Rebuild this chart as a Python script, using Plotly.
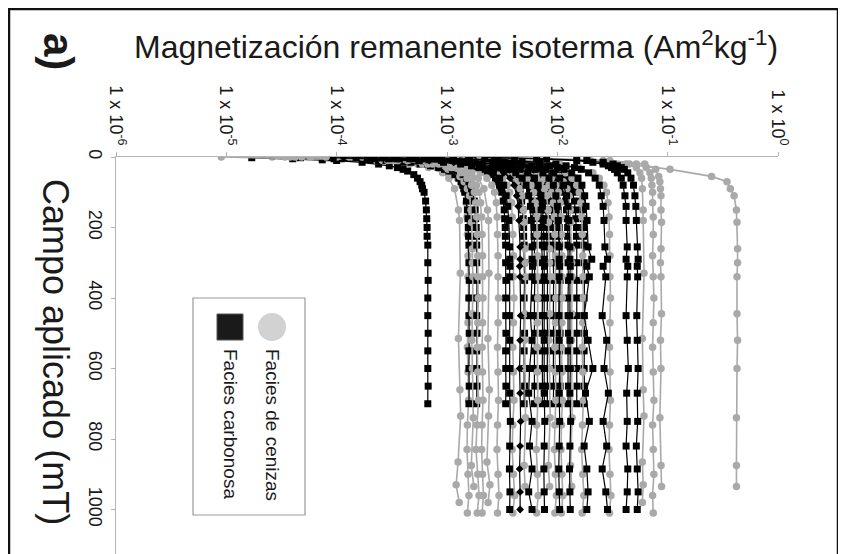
import plotly.graph_objects as go

# Campo aplicado (mT) - pasos de medicion de cada protocolo
FIELD_CARB_A = [2, 5, 8, 10, 15, 20, 25, 30, 35, 40, 50, 60, 70, 80, 90, 100, 125, 150, 175,
                200, 225, 250, 300, 350, 400, 450, 500, 550, 600, 650, 700]
FIELD_CARB_B = [2, 5, 10, 15, 20, 25, 30, 35, 45, 60, 80, 110, 140, 180, 255, 290, 310, 340,
                450, 520, 600, 670, 750, 820, 885, 950, 1000]
FIELD_CEN_A = [0, 10, 20, 35, 55, 70, 90, 110, 150, 185, 260, 300, 340, 445, 520, 600,
               740, 875, 935]
FIELD_CEN_B = [0, 10, 20, 30, 45, 60, 90, 150, 180, 330, 515, 660, 735, 865, 930, 980]
FIELD_CEN_C = [0, 10, 20, 30, 45, 60, 80, 100, 130, 170, 220, 280, 340, 400, 470, 540,
               610, 690, 760, 830, 900, 960, 1010]

# Facies carbonosa (Am2/kg), protocolo hasta 700 mT
CARB_01 = [1.7e-5, 4.0e-5, 7.4e-5, 1.0e-4, 1.7e-4, 2.4e-4, 3.0e-4, 3.55e-4, 4.0e-4, 4.4e-4,
           5.0e-4, 5.4e-4, 5.7e-4, 5.9e-4, 6.0e-4, 6.2e-4, 6.4e-4, 6.5e-4, 6.55e-4, 6.6e-4,
           6.6e-4, 6.7e-4, 6.7e-4, 6.75e-4, 6.7e-4, 6.7e-4, 6.75e-4, 6.7e-4, 6.7e-4, 6.75e-4, 6.7e-4]
CARB_02 = [4.0e-5, 9.5e-5, 1.74e-4, 2.4e-4, 4.0e-4, 5.7e-4, 7.1e-4, 8.4e-4, 9.5e-4, 1.04e-3,
           1.18e-3, 1.28e-3, 1.34e-3, 1.39e-3, 1.42e-3, 1.45e-3, 1.50e-3, 1.53e-3, 1.55e-3, 1.56e-3,
           1.57e-3, 1.58e-3, 1.58e-3, 1.59e-3, 1.58e-3, 1.58e-3, 1.59e-3, 1.58e-3, 1.58e-3, 1.59e-3,
           1.58e-3]
CARB_03 = [4.7e-5, 1.1e-4, 2.0e-4, 2.8e-4, 4.7e-4, 6.7e-4, 8.4e-4, 9.9e-4, 1.12e-3, 1.23e-3,
           1.40e-3, 1.51e-3, 1.58e-3, 1.64e-3, 1.67e-3, 1.71e-3, 1.77e-3, 1.80e-3, 1.82e-3, 1.84e-3,
           1.85e-3, 1.86e-3, 1.86e-3, 1.87e-3, 1.86e-3, 1.86e-3, 1.87e-3, 1.86e-3, 1.86e-3, 1.87e-3,
           1.86e-3]
CARB_04 = [8.5e-5, 2.0e-4, 3.7e-4, 5.1e-4, 8.5e-4, 1.22e-3, 1.53e-3, 1.80e-3, 2.04e-3, 2.24e-3,
           2.55e-3, 2.75e-3, 2.89e-3, 2.99e-3, 3.06e-3, 3.13e-3, 3.23e-3, 3.30e-3, 3.33e-3, 3.37e-3,
           3.38e-3, 3.40e-3, 3.40e-3, 3.42e-3, 3.40e-3, 3.41e-3, 3.42e-3, 3.40e-3, 3.41e-3, 3.42e-3,
           3.40e-3]
CARB_05 = [1.8e-4, 4.4e-4, 8.0e-4, 1.1e-3, 1.8e-3, 2.6e-3, 3.3e-3, 3.9e-3, 4.4e-3, 4.8e-3,
           5.5e-3, 5.9e-3, 6.2e-3, 6.4e-3, 6.6e-3, 6.7e-3, 6.9e-3, 7.1e-3, 7.15e-3, 7.2e-3,
           7.25e-3, 7.3e-3, 7.3e-3, 7.35e-3, 7.3e-3, 7.3e-3, 7.35e-3, 7.3e-3, 7.3e-3, 7.35e-3, 7.3e-3]
CARB_06 = [2.0e-4, 4.9e-4, 8.9e-4, 1.2e-3, 2.0e-3, 2.9e-3, 3.6e-3, 4.3e-3, 4.9e-3, 5.3e-3,
           6.1e-3, 6.6e-3, 6.9e-3, 7.1e-3, 7.3e-3, 7.45e-3, 7.7e-3, 7.85e-3, 7.95e-3, 8.0e-3,
           8.05e-3, 8.1e-3, 8.1e-3, 8.15e-3, 8.1e-3, 8.1e-3, 8.15e-3, 8.1e-3, 8.1e-3, 8.15e-3, 8.1e-3]
CARB_07 = [2.3e-4, 5.5e-4, 1.0e-3, 1.4e-3, 2.3e-3, 3.3e-3, 4.1e-3, 4.9e-3, 5.5e-3, 6.1e-3,
           6.9e-3, 7.5e-3, 7.8e-3, 8.1e-3, 8.3e-3, 8.5e-3, 8.7e-3, 8.9e-3, 9.0e-3, 9.1e-3,
           9.15e-3, 9.2e-3, 9.2e-3, 9.25e-3, 9.2e-3, 9.2e-3, 9.25e-3, 9.2e-3, 9.2e-3, 9.25e-3, 9.2e-3]
CARB_08 = [2.6e-4, 6.3e-4, 1.16e-3, 1.6e-3, 2.6e-3, 3.8e-3, 4.7e-3, 5.6e-3, 6.3e-3, 6.9e-3,
           7.9e-3, 8.5e-3, 8.9e-3, 9.2e-3, 9.5e-3, 9.7e-3, 1.0e-2, 1.02e-2, 1.03e-2, 1.04e-2,
           1.04e-2, 1.05e-2, 1.05e-2, 1.06e-2, 1.05e-2, 1.05e-2, 1.06e-2, 1.05e-2, 1.05e-2, 1.06e-2,
           1.05e-2]
CARB_09 = [3.1e-4, 7.5e-4, 1.38e-3, 1.9e-3, 3.1e-3, 4.5e-3, 5.6e-3, 6.6e-3, 7.5e-3, 8.3e-3,
           9.4e-3, 1.01e-2, 1.06e-2, 1.1e-2, 1.13e-2, 1.15e-2, 1.19e-2, 1.21e-2, 1.23e-2, 1.24e-2,
           1.24e-2, 1.25e-2, 1.25e-2, 1.26e-2, 1.25e-2, 1.25e-2, 1.26e-2, 1.25e-2, 1.25e-2, 1.26e-2,
           1.25e-2]
CARB_10 = [3.8e-4, 9.0e-4, 1.65e-3, 2.3e-3, 3.8e-3, 5.4e-3, 6.8e-3, 8.0e-3, 9.0e-3, 9.9e-3,
           1.13e-2, 1.22e-2, 1.28e-2, 1.32e-2, 1.35e-2, 1.38e-2, 1.43e-2, 1.46e-2, 1.47e-2, 1.49e-2,
           1.49e-2, 1.5e-2, 1.5e-2, 1.51e-2, 1.5e-2, 1.5e-2, 1.51e-2, 1.5e-2, 1.5e-2, 1.51e-2, 1.5e-2]
CARB_21 = [1.25e-4, 3.0e-4, 5.5e-4, 7.5e-4, 1.25e-3, 1.8e-3, 2.25e-3, 2.65e-3, 3.0e-3, 3.3e-3,
           3.75e-3, 4.05e-3, 4.25e-3, 4.4e-3, 4.5e-3, 4.6e-3, 4.75e-3, 4.85e-3, 4.9e-3, 4.95e-3,
           4.95e-3, 5.0e-3, 5.0e-3, 5.05e-3, 5.0e-3, 5.0e-3, 5.05e-3, 5.0e-3, 5.0e-3, 5.05e-3, 5.0e-3]
CARB_22 = [1.55e-4, 3.7e-4, 6.8e-4, 9.3e-4, 1.55e-3, 2.2e-3, 2.8e-3, 3.3e-3, 3.7e-3, 4.1e-3,
           4.65e-3, 5.0e-3, 5.3e-3, 5.45e-3, 5.6e-3, 5.7e-3, 5.9e-3, 6.0e-3, 6.1e-3, 6.15e-3,
           6.15e-3, 6.2e-3, 6.2e-3, 6.25e-3, 6.2e-3, 6.2e-3, 6.25e-3, 6.2e-3, 6.2e-3, 6.25e-3, 6.2e-3]
CARB_23 = [4.4e-4, 1.05e-3, 1.9e-3, 2.6e-3, 4.4e-3, 6.3e-3, 7.9e-3, 9.3e-3, 1.05e-2, 1.15e-2,
           1.31e-2, 1.42e-2, 1.49e-2, 1.54e-2, 1.58e-2, 1.61e-2, 1.66e-2, 1.7e-2, 1.72e-2, 1.73e-2,
           1.73e-2, 1.75e-2, 1.75e-2, 1.76e-2, 1.75e-2, 1.75e-2, 1.76e-2, 1.75e-2, 1.75e-2, 1.76e-2,
           1.75e-2]

# Facies carbonosa, protocolo hasta 1000 mT
CARB_11 = [1.15e-4, 2.8e-4, 6.9e-4, 1.15e-3, 1.66e-3, 2.07e-3, 2.44e-3, 2.76e-3, 3.27e-3, 3.73e-3,
           4.05e-3, 4.28e-3, 4.42e-3, 4.5e-3, 4.6e-3, 4.6e-3, 4.55e-3, 4.6e-3, 4.65e-3, 4.6e-3,
           4.55e-3, 4.6e-3, 4.65e-3, 4.6e-3, 4.55e-3, 4.6e-3, 4.6e-3]
CARB_12 = [9.3e-5, 2.2e-4, 5.6e-4, 9.3e-4, 1.33e-3, 1.67e-3, 1.96e-3, 2.22e-3, 2.63e-3, 3.0e-3,
           3.26e-3, 3.44e-3, 3.55e-3, 3.63e-3, 3.7e-3, 3.7e-3, 3.72e-3, 3.7e-3, 3.68e-3, 3.7e-3,
           3.72e-3, 3.7e-3, 3.75e-3, 3.7e-3, 3.68e-3, 3.72e-3, 3.7e-3]
CARB_13 = [1.5e-4, 3.5e-4, 8.9e-4, 1.5e-3, 2.1e-3, 2.65e-3, 3.1e-3, 3.55e-3, 4.2e-3, 4.8e-3,
           5.2e-3, 5.5e-3, 5.7e-3, 5.8e-3, 5.9e-3, 5.9e-3, 5.95e-3, 5.9e-3, 5.7e-3, 5.9e-3,
           5.6e-3, 5.5e-3, 5.9e-3, 5.6e-3, 5.9e-3, 5.5e-3, 5.9e-3]
CARB_14 = [1.9e-4, 4.6e-4, 1.14e-3, 1.9e-3, 2.7e-3, 3.4e-3, 4.0e-3, 4.6e-3, 5.4e-3, 6.2e-3,
           6.7e-3, 7.1e-3, 7.3e-3, 7.45e-3, 7.6e-3, 7.6e-3, 7.65e-3, 7.6e-3, 7.55e-3, 7.6e-3,
           7.65e-3, 7.6e-3, 7.7e-3, 7.6e-3, 7.55e-3, 7.6e-3, 7.65e-3]
CARB_15 = [2.6e-4, 6.2e-4, 1.56e-3, 2.6e-3, 3.7e-3, 4.7e-3, 5.5e-3, 6.3e-3, 7.4e-3, 8.4e-3,
           9.2e-3, 9.7e-3, 1.0e-2, 1.02e-2, 1.04e-2, 1.04e-2, 1.05e-2, 1.04e-2, 1.03e-2, 1.04e-2,
           1.05e-2, 1.04e-2, 1.05e-2, 1.04e-2, 1.03e-2, 1.04e-2, 1.05e-2]
CARB_16 = [3.3e-4, 7.8e-4, 1.95e-3, 3.3e-3, 4.7e-3, 5.9e-3, 6.9e-3, 7.9e-3, 9.2e-3, 1.05e-2,
           1.14e-2, 1.21e-2, 1.25e-2, 1.27e-2, 1.3e-2, 1.3e-2, 1.31e-2, 1.3e-2, 1.29e-2, 1.3e-2,
           1.31e-2, 1.3e-2, 1.32e-2, 1.3e-2, 1.29e-2, 1.3e-2, 1.31e-2]
CARB_17 = [4.8e-4, 1.14e-3, 2.9e-3, 4.8e-3, 6.8e-3, 8.5e-3, 1.0e-2, 1.15e-2, 1.35e-2, 1.54e-2,
           1.67e-2, 1.77e-2, 1.82e-2, 1.86e-2, 1.9e-2, 2.05e-2, 1.85e-2, 1.95e-2, 1.75e-2, 1.9e-2,
           2.1e-2, 1.8e-2, 1.95e-2, 1.75e-2, 1.85e-2, 1.9e-2, 1.85e-2]
CARB_18 = [6.8e-4, 1.6e-3, 4.1e-3, 6.9e-3, 9.7e-3, 1.2e-2, 1.43e-2, 1.65e-2, 1.92e-2, 2.2e-2,
           2.4e-2, 2.5e-2, 2.6e-2, 2.65e-2, 2.7e-2, 2.85e-2, 2.6e-2, 2.75e-2, 2.55e-2, 2.8e-2,
           2.65e-2, 2.9e-2, 2.6e-2, 2.8e-2, 2.55e-2, 2.75e-2, 2.85e-2]
CARB_19 = [2.2e-3, 6.5e-3, 1.5e-2, 2.1e-2, 2.6e-2, 2.9e-2, 3.1e-2, 3.3e-2, 3.5e-2, 3.8e-2,
           3.95e-2, 4.1e-2, 4.2e-2, 4.2e-2, 4.3e-2, 4.2e-2, 4.35e-2, 4.3e-2, 4.2e-2, 4.3e-2,
           4.4e-2, 4.25e-2, 4.3e-2, 4.2e-2, 4.35e-2, 4.3e-2, 4.2e-2]
CARB_20 = [2.7e-3, 8.0e-3, 1.85e-2, 2.6e-2, 3.2e-2, 3.5e-2, 3.8e-2, 4.05e-2, 4.35e-2, 4.65e-2,
           4.9e-2, 5.05e-2, 5.15e-2, 5.2e-2, 5.3e-2, 5.4e-2, 5.3e-2, 5.35e-2, 5.25e-2, 5.3e-2,
           5.4e-2, 5.3e-2, 5.35e-2, 5.2e-2, 5.3e-2, 5.4e-2, 5.3e-2]

# Facies de cenizas (Am2/kg)
CEN_01 = [2.6e-5, 2.0e-4, 4.6e-4, 6.8e-4, 9.1e-4, 1.04e-3, 1.17e-3, 1.27e-3, 1.30e-3, 1.32e-3,
          1.27e-3, 1.31e-3, 1.33e-3, 1.26e-3, 1.21e-3, 1.29e-3]
CEN_02 = [9e-6, 2.3e-4, 5.4e-4, 8.1e-4, 1.09e-3, 1.24e-3, 1.36e-3, 1.44e-3, 1.49e-3, 1.52e-3,
          1.53e-3, 1.55e-3, 1.55e-3, 1.57e-3, 1.55e-3, 1.53e-3, 1.55e-3, 1.57e-3, 1.53e-3, 1.52e-3,
          1.55e-3, 1.58e-3, 1.53e-3]
CEN_03 = [3.8e-5, 2.9e-4, 6.7e-4, 9.9e-4, 1.33e-3, 1.52e-3, 1.67e-3, 1.77e-3, 1.82e-3, 1.86e-3,
          1.88e-3, 1.90e-3, 1.90e-3, 1.92e-3, 1.90e-3, 1.88e-3, 1.90e-3, 1.93e-3, 1.87e-3, 1.83e-3,
          1.90e-3, 1.95e-3, 1.88e-3]
CEN_04 = [4.2e-5, 3.2e-4, 7.4e-4, 1.09e-3, 1.47e-3, 1.68e-3, 1.85e-3, 1.95e-3, 2.02e-3, 2.06e-3,
          2.08e-3, 2.1e-3, 2.1e-3, 2.12e-3, 2.1e-3, 2.08e-3, 2.1e-3, 2.12e-3, 2.08e-3, 2.06e-3,
          2.1e-3, 2.14e-3, 2.08e-3]
CEN_05 = [5.8e-5, 4.4e-4, 1.0e-3, 1.5e-3, 2.0e-3, 2.3e-3, 2.55e-3, 2.7e-3, 2.8e-3, 2.85e-3,
          2.87e-3, 2.9e-3, 2.9e-3, 2.93e-3, 2.9e-3, 2.87e-3, 2.9e-3, 2.93e-3, 2.87e-3, 2.84e-3,
          2.9e-3, 2.96e-3, 2.87e-3]
CEN_06 = [8e-5, 6.0e-4, 1.4e-3, 2.1e-3, 2.8e-3, 3.2e-3, 3.5e-3, 3.7e-3, 3.85e-3, 3.9e-3,
          3.95e-3, 4.0e-3, 4.0e-3, 4.05e-3, 4.0e-3, 3.95e-3, 4.0e-3, 4.05e-3, 3.95e-3, 3.9e-3,
          4.0e-3, 4.1e-3, 3.95e-3]
CEN_07 = [1.0e-4, 7.7e-4, 1.8e-3, 3.1e-3, 3.9e-3, 4.3e-3, 4.6e-3, 4.8e-3, 4.95e-3, 5.0e-3,
          5.1e-3, 5.1e-3, 5.15e-3, 5.1e-3, 5.05e-3, 5.1e-3, 5.15e-3, 5.0e-3, 5.1e-3]
CEN_08 = [1.3e-4, 9.9e-4, 2.3e-3, 3.4e-3, 4.6e-3, 5.3e-3, 5.8e-3, 6.1e-3, 6.3e-3, 6.5e-3,
          6.55e-3, 6.6e-3, 6.6e-3, 6.65e-3, 6.6e-3, 6.55e-3, 6.6e-3, 6.65e-3, 6.5e-3, 6.45e-3,
          6.6e-3, 6.7e-3, 6.5e-3]
CEN_09 = [1.7e-4, 1.28e-3, 3.0e-3, 5.1e-3, 6.5e-3, 7.1e-3, 7.65e-3, 8.0e-3, 8.25e-3, 8.3e-3,
          8.5e-3, 8.5e-3, 8.6e-3, 8.5e-3, 8.4e-3, 8.5e-3, 8.6e-3, 8.3e-3, 8.5e-3]
CEN_10 = [1.9e-4, 1.44e-3, 3.4e-3, 5.0e-3, 6.7e-3, 7.7e-3, 8.4e-3, 8.9e-3, 9.2e-3, 9.4e-3,
          9.5e-3, 9.6e-3, 9.6e-3, 9.7e-3, 9.6e-3, 9.5e-3, 9.6e-3, 9.7e-3, 9.5e-3, 9.4e-3,
          9.6e-3, 9.8e-3, 9.5e-3]
CEN_11 = [2.2e-4, 1.65e-3, 3.85e-3, 5.7e-3, 7.7e-3, 8.8e-3, 9.7e-3, 1.02e-2, 1.06e-2, 1.08e-2,
          1.09e-2, 1.1e-2, 1.1e-2, 1.11e-2, 1.1e-2, 1.09e-2, 1.1e-2, 1.11e-2, 1.09e-2, 1.08e-2,
          1.1e-2, 1.12e-2, 1.09e-2]
CEN_12 = [2.7e-4, 2.0e-3, 4.7e-3, 8.1e-3, 1.04e-2, 1.13e-2, 1.22e-2, 1.27e-2, 1.31e-2, 1.32e-2,
          1.35e-2, 1.35e-2, 1.36e-2, 1.35e-2, 1.34e-2, 1.35e-2, 1.36e-2, 1.32e-2, 1.35e-2]
CEN_13 = [3.4e-4, 2.55e-3, 5.95e-3, 8.8e-3, 1.19e-2, 1.36e-2, 1.5e-2, 1.58e-2, 1.63e-2, 1.67e-2,
          1.68e-2, 1.7e-2, 1.71e-2, 1.72e-2, 1.7e-2, 1.68e-2, 1.7e-2, 1.72e-2, 1.69e-2, 1.66e-2,
          1.7e-2, 1.74e-2, 1.68e-2]
CEN_14 = [6e-4, 4.5e-3, 1.05e-2, 1.56e-2, 2.1e-2, 2.4e-2, 2.64e-2, 2.79e-2, 2.88e-2, 2.94e-2,
          2.97e-2, 3.0e-2, 3.0e-2, 3.03e-2, 3.0e-2, 2.97e-2, 3.0e-2, 3.03e-2, 2.97e-2, 2.94e-2,
          3.0e-2, 3.06e-2, 2.97e-2]
CEN_15 = [2e-3, 2.0e-2, 4.2e-2, 5.2e-2, 5.6e-2, 5.8e-2, 5.9e-2, 6.0e-2, 6.0e-2, 6.1e-2,
          5.9e-2, 6.0e-2, 6.1e-2, 5.9e-2, 6.0e-2, 5.9e-2]
CEN_16 = [2.5e-3, 2.6e-2, 5.2e-2, 6.4e-2, 6.9e-2, 7.1e-2, 7.2e-2, 7.3e-2, 7.3e-2, 7.4e-2,
          7.4e-2, 7.3e-2, 7.4e-2, 7.5e-2, 7.4e-2, 7.3e-2, 7.4e-2, 7.5e-2, 7.3e-2, 7.4e-2,
          7.5e-2, 7.3e-2, 7.4e-2]
CEN_17 = [3e-3, 3.0e-2, 6.2e-2, 7.8e-2, 8.3e-2, 8.5e-2, 8.6e-2, 8.7e-2, 8.7e-2, 8.8e-2,
          8.7e-2, 8.6e-2, 8.7e-2, 8.8e-2, 8.6e-2, 8.7e-2, 8.5e-2, 8.7e-2, 8.8e-2]
CEN_18 = [2.0e-3, 1.5e-2, 4.5e-2, 0.105, 0.25, 0.345, 0.37, 0.40, 0.42, 0.425,
          0.43, 0.43, 0.425, 0.425, 0.43, 0.425, 0.42, 0.42, 0.42]
CEN_19 = [3.4e-5, 2.6e-4, 6.0e-4, 1.02e-3, 1.31e-3, 1.43e-3, 1.53e-3, 1.6e-3, 1.65e-3, 1.67e-3,
          1.7e-3, 1.7e-3, 1.72e-3, 1.7e-3, 1.68e-3, 1.7e-3, 1.73e-3, 1.66e-3, 1.75e-3]
CEN_20 = [4.8e-5, 3.6e-4, 8.4e-4, 1.25e-3, 1.68e-3, 1.92e-3, 2.16e-3, 2.33e-3, 2.38e-3, 2.4e-3,
          2.35e-3, 2.42e-3, 2.38e-3, 2.3e-3, 2.45e-3, 2.36e-3]

X_TICKS = [1e-6, 1e-5, 1e-4, 1e-3, 1e-2, 1e-1, 1e0]
X_TICK_TEXT = ['1 x 10<sup>-6</sup>', '1 x 10<sup>-5</sup>', '1 x 10<sup>-4</sup>',
               '1 x 10<sup>-3</sup>', '1 x 10<sup>-2</sup>', '1 x 10<sup>-1</sup>',
               '1 x 10<sup>0</sup>']
Y_TICKS = [0, 200, 400, 600, 800, 1000]

carbonosa = [
    (FIELD_CARB_A, CARB_01), (FIELD_CARB_A, CARB_02), (FIELD_CARB_A, CARB_03),
    (FIELD_CARB_A, CARB_04), (FIELD_CARB_A, CARB_21), (FIELD_CARB_A, CARB_05),
    (FIELD_CARB_A, CARB_22), (FIELD_CARB_A, CARB_06), (FIELD_CARB_A, CARB_07),
    (FIELD_CARB_A, CARB_08), (FIELD_CARB_A, CARB_09), (FIELD_CARB_A, CARB_10),
    (FIELD_CARB_A, CARB_23), (FIELD_CARB_B, CARB_11), (FIELD_CARB_B, CARB_12),
    (FIELD_CARB_B, CARB_13), (FIELD_CARB_B, CARB_14), (FIELD_CARB_B, CARB_15),
    (FIELD_CARB_B, CARB_16), (FIELD_CARB_B, CARB_17), (FIELD_CARB_B, CARB_18),
    (FIELD_CARB_B, CARB_19), (FIELD_CARB_B, CARB_20),
]
cenizas = [
    (FIELD_CEN_B, CEN_01), (FIELD_CEN_C, CEN_02), (FIELD_CEN_A, CEN_19),
    (FIELD_CEN_C, CEN_03), (FIELD_CEN_C, CEN_04), (FIELD_CEN_B, CEN_20),
    (FIELD_CEN_C, CEN_05), (FIELD_CEN_C, CEN_06), (FIELD_CEN_A, CEN_07),
    (FIELD_CEN_C, CEN_08), (FIELD_CEN_A, CEN_09), (FIELD_CEN_C, CEN_10),
    (FIELD_CEN_C, CEN_11), (FIELD_CEN_A, CEN_12), (FIELD_CEN_C, CEN_13),
    (FIELD_CEN_C, CEN_14), (FIELD_CEN_B, CEN_15), (FIELD_CEN_C, CEN_16),
    (FIELD_CEN_A, CEN_17), (FIELD_CEN_A, CEN_18),
]

GRAY = '#a9a9a9'
FONT = 'Liberation Sans, Arial, sans-serif'

# the page body adds an 8 px margin, so everything below is laid out in
# screen pixels and shifted back by OFF
OFF = 8
W, HGT = 846, 554
L, R, T = 116, 778, 157          # plot area on screen: x 116..778, y 157..bottom
B = HGT + OFF                    # bottom of the plot area (screen px)
PX_PER_MT = 0.3525


def px(x):
    return (x - L) / (R - L)


def py(y):
    return (B - y) / (B - T)


fig = go.Figure()

# interleave the two facies so neither one hides the other completely
n = max(len(carbonosa), len(cenizas))
for i in range(n):
    if i < len(cenizas):
        f, m = cenizas[i]
        fig.add_trace(go.Scatter(
            x=m, y=f, mode='lines+markers',
            line=dict(color=GRAY, width=1.6),
            marker=dict(symbol='circle', size=7.5, color=GRAY),
            showlegend=False, hoverinfo='skip'))
    if i < len(carbonosa):
        f, m = carbonosa[i]
        diamond = m is CARB_11
        fig.add_trace(go.Scatter(
            x=m, y=f, mode='lines+markers',
            line=dict(color='black', width=1.2),
            marker=dict(symbol='diamond' if diamond else 'square',
                        size=6 if diamond else 7, color='black'),
            showlegend=False, hoverinfo='skip'))

fig.update_layout(
    width=W, height=HGT,
    margin=dict(l=L - OFF, r=W - (R - OFF), t=T - OFF, b=0),
    paper_bgcolor='white', plot_bgcolor='white',
    font=dict(family=FONT, color='#1a1a1a'),
    xaxis=dict(type='log', range=[-6, 0], side='top', showgrid=False, zeroline=False,
               showline=True, linecolor='#b4b4b4', linewidth=1.2,
               ticks='outside', ticklen=4, tickcolor='#b4b4b4',
               tickvals=X_TICKS, ticktext=X_TICK_TEXT, tickangle=90,
               tickfont=dict(size=18)),
    yaxis=dict(range=[(B - T) / PX_PER_MT, 0], showgrid=False, zeroline=False,
               showline=True, linecolor='#b4b4b4', linewidth=1.2,
               ticks='outside', ticklen=4, tickcolor='#b4b4b4',
               tickvals=Y_TICKS, tickangle=90, tickfont=dict(size=18)),
)

# outer frame
fig.add_shape(type='rect', xref='paper', yref='paper',
              x0=px(OFF + 1), x1=px(838), y0=py(620), y1=py(OFF + 1),
              line=dict(color='#111', width=2.5))

# hand made legend (the text is rotated like the rest of the figure)
fig.add_shape(type='rect', xref='paper', yref='paper',
              x0=px(193), x1=px(305), y0=py(515), y1=py(298),
              line=dict(color='#9a9a9a', width=1.2), fillcolor='white', layer='above')
fig.add_shape(type='circle', xref='paper', yref='paper',
              x0=px(258), x1=px(286), y0=py(341), y1=py(313),
              line=dict(width=0), fillcolor='#d2d2d2', layer='above')
fig.add_shape(type='rect', xref='paper', yref='paper',
              x0=px(217), x1=px(243), y0=py(340), y1=py(314),
              line=dict(color='#555', width=1), fillcolor='#1a1a1a', layer='above')

annotations = [
    dict(text='Facies de cenizas', x=px(272), y=py(425), textangle=90, font=dict(size=19)),
    dict(text='Facies carbonosa', x=px(231), y=py(424), textangle=90, font=dict(size=19)),
    dict(text='Magnetización remanente isoterma (Am<sup>2</sup>kg<sup>-1</sup>)',
         x=px(456), y=py(45), font=dict(size=32)),
    dict(text='Campo aplicado (mT)', x=px(56), y=py(352), textangle=90, font=dict(size=36)),
    dict(text='<b>a)</b>', x=px(58), y=py(52), textangle=90, font=dict(size=42)),
]
for a in annotations:
    fig.add_annotation(xref='paper', yref='paper', showarrow=False,
                       xanchor='center', yanchor='middle', **a)

fig.write_html("out.html")
